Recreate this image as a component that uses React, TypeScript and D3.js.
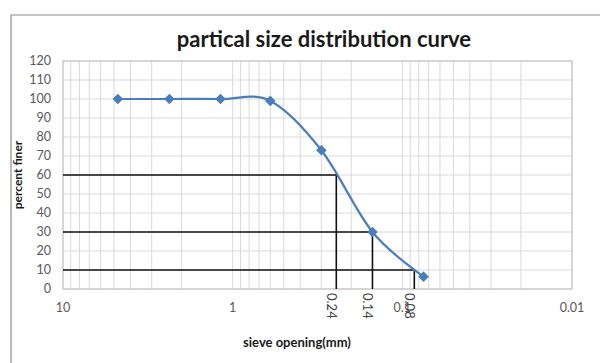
import React from 'react';
import * as d3 from 'd3';

// sieve sizes (mm) and percent passing
const sieveSizes = [4.75, 2.36, 1.18, 0.6, 0.3, 0.15, 0.075];
const percentFiner = [100, 100, 100, 99, 73, 30, 6.5];

// D60 / D30 / D10 helper lines
const dPercents = [60, 30, 10];
const dSizes = [0.245, 0.15, 0.085];
const dLabels = ['0.24', '0.14', '0.08'];

const xTicks = [10, 1, 0.1, 0.01];
const yTicks = d3.range(0, 121, 10);

const App = () => {
  const width = 600;
  const height = 363;
  const margin = { top: 61, right: 28, bottom: 74, left: 63 };
  const innerWidth = width - margin.left - margin.right;
  const innerHeight = height - margin.top - margin.bottom;

  const blue = '#4A7EBB';
  const grid = '#d9d9d9';
  const labelGrey = '#595959';
  const font = 'Lato, "Open Sans", sans-serif';

  /* reversed log scale: 10 on the left, 0.01 on the right */
  const xScale = d3.scaleLog().domain([10, 0.01]).range([0, innerWidth]);
  const yScale = d3.scaleLinear().domain([0, 120]).range([innerHeight, 0]);

  // minor grid : 2..9 in every decade
  const minorX: number[] = [];
  [0.01, 0.1, 1].forEach((dec) => {
    for (let k = 1; k < 10; k++) minorX.push(dec * k);
  });
  minorX.push(10);

  const points = sieveSizes.map((s, i) => [s, percentFiner[i]] as [number, number]);
  const line = d3
    .line<[number, number]>()
    .x((d) => xScale(d[0]))
    .y((d) => yScale(d[1]))
    .curve(d3.curveCardinal.tension(0));

  // excel-like diamond = square turned 45deg
  const diamond = d3.symbol().type(d3.symbolSquare).size(56)();

  return (
    <svg width={width} height={height} style={{ position: 'absolute', left: 0, top: 0, background: '#fff' }}>
      {/* chart border */}
      <path d={`M11,${height} V15 H${width}`} fill="none" stroke="#8c8c8c" strokeWidth={1.2} />

      <text x={324} y={47} textAnchor="middle" fontFamily={font} fontWeight="bold" fontSize={22} fill="#1a1a1a">
        partical size distribution curve
      </text>

      <g transform={`translate(${margin.left},${margin.top})`}>
        {/* grid */}
        {yTicks.map((t) => (
          <line key={'h' + t} x1={0} x2={innerWidth} y1={yScale(t)} y2={yScale(t)} stroke={grid} strokeWidth={1} />
        ))}
        {minorX.map((t, i) => (
          <line key={'v' + i} x1={xScale(t)} x2={xScale(t)} y1={0} y2={innerHeight} stroke={grid} strokeWidth={1} />
        ))}
        <rect x={0} y={0} width={innerWidth} height={innerHeight} fill="none" stroke="#bfbfbf" />

        {/* y ticks */}
        {yTicks.map((t) => (
          <text key={'yl' + t} x={-12} y={yScale(t)} dy="0.35em" textAnchor="end" fontFamily={font} fontSize={12.5} fill={labelGrey}>
            {t}
          </text>
        ))}

        {/* x ticks */}
        {xTicks.map((t) => (
          <text key={'xl' + t} x={xScale(t)} y={innerHeight + 23} textAnchor="middle" fontFamily={font} fontSize={12.5} fill={labelGrey}>
            {t}
          </text>
        ))}

        {/* D lines */}
        {dSizes.map((s, i) => (
          <g key={'d' + i}>
            <path
              d={`M0,${yScale(dPercents[i])} H${xScale(s)} V${innerHeight}`}
              fill="none"
              stroke="#111"
              strokeWidth={1.6}
            />
            <text
              transform={`translate(${xScale(s) - 4.5},${innerHeight + 4}) rotate(90)`}
              dominantBaseline="central"
              fontFamily={font}
              fontSize={13}
              fill="#404040"
            >
              {dLabels[i]}
            </text>
          </g>
        ))}

        {/* curve */}
        <path d={line(points) || ''} fill="none" stroke={blue} strokeWidth={2.2} />
        {points.map((p, i) => (
          <path
            key={'m' + i}
            d={diamond || ''}
            transform={`translate(${xScale(p[0])},${yScale(p[1])}) rotate(45)`}
            fill={blue}
          />
        ))}
      </g>

      <text x={297} y={347} textAnchor="middle" fontFamily={font} fontWeight="bold" fontSize={13} fill="#1a1a1a">
        sieve opening(mm)
      </text>
      <text
        transform="translate(22,175) rotate(-90)"
        textAnchor="middle"
        fontFamily={font}
        fontWeight="bold"
        fontSize={12}
        fill="#1a1a1a"
      >
        percent finer
      </text>
    </svg>
  );
};

export default App;
